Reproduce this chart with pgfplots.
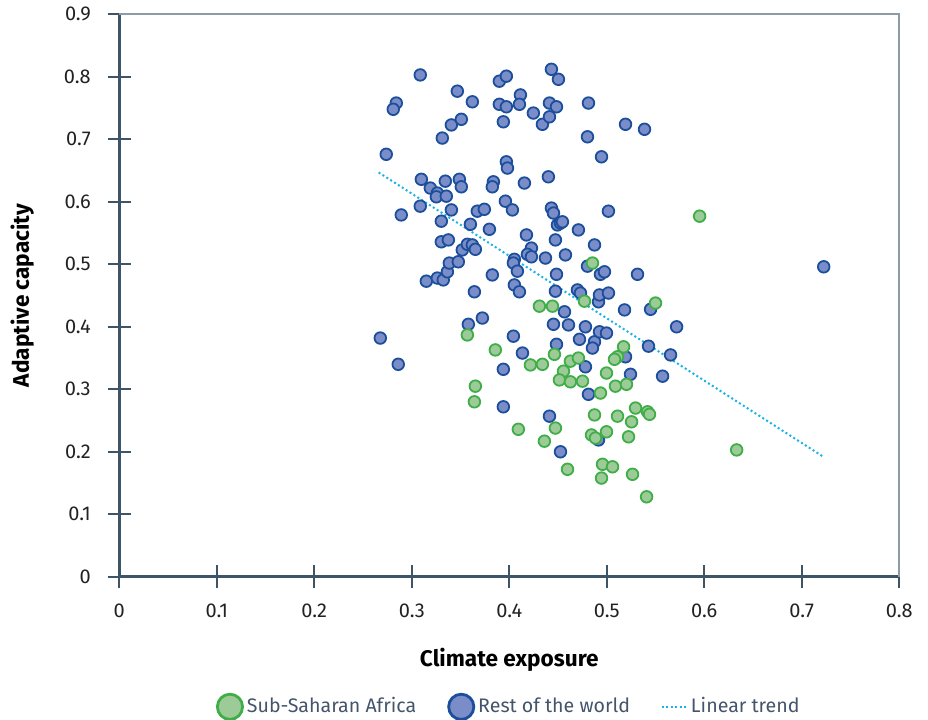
\documentclass[border=0pt]{standalone}
\usepackage{fontspec}
\setmainfont{Fira Sans}
\usepackage{pgfplots}
\usepackage{pgfplotstable}
\pgfplotsset{compat=1.18}
\definecolor{gfill}{HTML}{9DCB97}
\definecolor{gdraw}{HTML}{3FAE49}
\definecolor{bfill}{HTML}{7B8DC8}
\definecolor{bdraw}{HTML}{1B4F9C}
\definecolor{trendc}{HTML}{19B2E6}
\definecolor{axisdark}{HTML}{3E5467}
\definecolor{bordergray}{HTML}{8C9BA8}
\definecolor{tickc}{HTML}{222222}
\definecolor{legc}{HTML}{44546A}

\pgfplotstableread{
x y
0.2677 0.382
0.2861 0.340
0.2738 0.676
0.2841 0.758
0.2810 0.748
0.3087 0.803
0.2892 0.579
0.3098 0.636
0.3087 0.593
0.3190 0.622
0.3262 0.614
0.3252 0.608
0.3354 0.609
0.3313 0.702
0.3406 0.723
0.3508 0.732
0.3467 0.777
0.3621 0.760
0.3303 0.569
0.3303 0.536
0.3375 0.539
0.3344 0.633
0.3488 0.636
0.3508 0.624
0.3406 0.587
0.3149 0.473
0.3262 0.478
0.3323 0.475
0.3365 0.488
0.3385 0.502
0.3477 0.504
0.3518 0.523
0.3570 0.532
0.3621 0.531
0.3652 0.524
0.3601 0.564
0.3580 0.404
0.3642 0.456
0.3724 0.414
0.3672 0.585
0.3744 0.588
0.3796 0.556
0.3837 0.632
0.3826 0.624
0.3826 0.483
0.3898 0.793
0.3970 0.801
0.3898 0.756
0.3970 0.752
0.3939 0.728
0.4114 0.771
0.4104 0.756
0.4247 0.742
0.4340 0.724
0.4412 0.736
0.4432 0.812
0.4504 0.796
0.4412 0.758
0.4484 0.752
0.3970 0.664
0.3981 0.654
0.3960 0.601
0.4032 0.587
0.4155 0.630
0.4401 0.640
0.4432 0.590
0.4453 0.582
0.4494 0.563
0.4525 0.566
0.4545 0.568
0.4473 0.539
0.4176 0.547
0.4227 0.526
0.4186 0.516
0.4227 0.512
0.4371 0.510
0.4052 0.508
0.4042 0.502
0.4083 0.489
0.4052 0.467
0.4104 0.456
0.4484 0.484
0.4473 0.457
0.4453 0.404
0.4484 0.372
0.4566 0.424
0.4607 0.403
0.4576 0.515
0.4709 0.555
0.4699 0.459
0.4730 0.454
0.4781 0.400
0.4812 0.758
0.4802 0.704
0.4802 0.497
0.4720 0.380
0.4781 0.336
0.4812 0.292
0.4874 0.531
0.4874 0.376
0.4853 0.366
0.4915 0.440
0.4925 0.451
0.4935 0.484
0.4976 0.488
0.4946 0.672
0.5017 0.585
0.5017 0.454
0.4925 0.392
0.4997 0.390
0.4915 0.219
0.5192 0.724
0.5387 0.716
0.5182 0.427
0.5192 0.352
0.5243 0.324
0.5315 0.484
0.5428 0.369
0.5449 0.428
0.5654 0.355
0.5716 0.400
0.5572 0.321
0.7225 0.496
0.4042 0.385
0.4135 0.358
0.3939 0.332
0.3939 0.272
0.4412 0.257
0.4525 0.200
}\restdata

\pgfplotstableread{
x y
0.3570 0.387
0.3857 0.363
0.3652 0.305
0.3642 0.280
0.4093 0.236
0.4309 0.433
0.4443 0.433
0.4217 0.339
0.4340 0.340
0.4463 0.356
0.4627 0.345
0.4709 0.350
0.4556 0.329
0.4514 0.315
0.4627 0.312
0.4751 0.313
0.4473 0.238
0.4360 0.217
0.4597 0.172
0.4771 0.441
0.4853 0.502
0.5500 0.438
0.5952 0.577
0.5172 0.368
0.5110 0.352
0.5079 0.348
0.4997 0.326
0.5089 0.305
0.5202 0.308
0.4935 0.294
0.5295 0.270
0.5418 0.264
0.5438 0.260
0.4874 0.259
0.5110 0.257
0.5254 0.248
0.4843 0.227
0.4884 0.222
0.4997 0.232
0.5223 0.224
0.4956 0.180
0.5059 0.176
0.5264 0.164
0.4946 0.158
0.5408 0.128
0.6332 0.203
}\ssadata

\pgfplotstableread{
x y
0.266 0.647
0.7225 0.1917
}\trenddata

\begin{document}
\begin{tikzpicture}
\begin{axis}[
  scale only axis,
  width=390pt, height=281.25pt,
  xmin=0, xmax=0.8, ymin=0, ymax=0.9,
  xtick={0,0.1,0.2,0.3,0.4,0.5,0.6,0.7,0.8},
  ytick={0,0.1,0.2,0.3,0.4,0.5,0.6,0.7,0.8,0.9},
  axis x line*=bottom, axis y line*=left,
  axis line style={draw=axisdark, line width=1.35pt, -},
  tick align=center,
  major tick length=11.5pt,
  tick style={draw=axisdark, line width=1.15pt},
  /pgf/number format/assume math mode=true,
  ticklabel style={font=\fontsize{10}{12}\selectfont, text=tickc},
  xticklabel style={anchor=north, yshift=-4.5pt},
  yticklabel style={anchor=east, xshift=-5pt},
  xlabel={Climate exposure},
  ylabel={Adaptive capacity},
  xlabel style={font=\fontsize{11.3}{13}\selectfont\bfseries, text=black, at={(axis description cs:0.5,0)}, anchor=center, yshift=-41.5pt},
  ylabel style={font=\fontsize{11.3}{13}\selectfont\bfseries, text=black, at={(axis description cs:0,0.5)}, anchor=center, rotate=0, yshift=48.5pt},
  clip=false,
  legend style={at={(axis description cs:0.5,0)}, anchor=center, yshift=-65pt, draw=none, fill=none,
    font=\fontsize{9.8}{11}\selectfont, text=legc, legend columns=3,
    /tikz/every even column/.append style={column sep=14pt},
    nodes={inner sep=1.5pt}},
  legend cell align=left,
]
\draw[bordergray, line width=1pt] (axis cs:0,0.9) -- (axis cs:0.8,0.9) -- (axis cs:0.8,0);

\addlegendimage{legend image code/.code={\draw[fill=gfill, draw=gdraw, line width=1.4pt] (6.3pt,0) circle (6.3pt);}}
\addlegendentry{Sub-Saharan Africa}
\addlegendimage{legend image code/.code={\draw[fill=bfill, draw=bdraw, line width=1.4pt] (6.3pt,0) circle (6.3pt);}}
\addlegendentry{Rest of the world}
\addlegendimage{legend image code/.code={\draw[trendc, line width=1pt, dash pattern=on 1pt off 1.2pt] (0pt,0) -- (12.5pt,0);}}
\addlegendentry{Linear trend}

\addplot[forget plot, trendc, line width=1pt, dash pattern=on 1pt off 1.3pt] table {\trenddata};
\addplot[forget plot, only marks, mark=*, mark size=2.9pt, mark options={fill=bfill, draw=bdraw, line width=0.9pt}] table {\restdata};
\addplot[forget plot, only marks, mark=*, mark size=2.9pt, mark options={fill=gfill, draw=gdraw, line width=0.9pt}] table {\ssadata};
\end{axis}
\pgfresetboundingbox
\path (current axis.south west) ++(-59.65pt,-71.1pt) rectangle ++(464pt,359.5pt);
\end{tikzpicture}
\end{document}
